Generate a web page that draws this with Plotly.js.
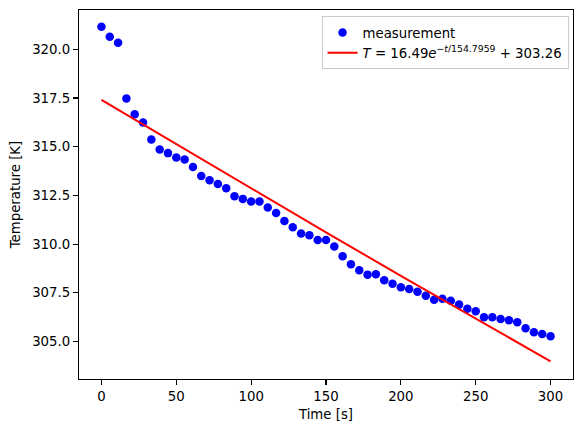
<!DOCTYPE html>
<html>
<head>
<meta charset="utf-8">
<script src="https://cdn.plot.ly/plotly-3.0.1.min.js"></script>
<style>html,body{margin:0;padding:0;background:#fff;}#chart{width:584px;height:432px;}</style>
</head>
<body>
<div id="chart"></div>
<script>
const timeS = [0, 5.56, 11.11, 16.67, 22.22, 27.78, 33.33, 38.89, 44.44, 50,
  55.56, 61.11, 66.67, 72.22, 77.78, 83.33, 88.89, 94.44, 100, 105.56,
  111.11, 116.67, 122.22, 127.78, 133.33, 138.89, 144.44, 150, 155.56, 161.11,
  166.67, 172.22, 177.78, 183.33, 188.89, 194.44, 200, 205.56, 211.11, 216.67,
  222.22, 227.78, 233.33, 238.89, 244.44, 250, 255.56, 261.11, 266.67, 272.22,
  277.78, 283.33, 288.89, 294.44, 300];
const measuredT = [321.16, 320.65, 320.34, 317.47, 316.67, 316.24, 315.37, 314.86, 314.67, 314.45,
  314.34, 313.96, 313.49, 313.28, 313.09, 312.87, 312.45, 312.32, 312.19, 312.19,
  311.88, 311.59, 311.18, 310.86, 310.54, 310.45, 310.21, 310.21, 309.88, 309.37,
  308.96, 308.65, 308.43, 308.45, 308.14, 307.96, 307.78, 307.69, 307.55, 307.35,
  307.14, 307.19, 307.09, 306.89, 306.68, 306.55, 306.24, 306.24, 306.15, 306.09,
  305.99, 305.68, 305.47, 305.38, 305.26];
const fitTime = [0, 50, 100, 150, 200, 250, 300];
const fitT = [317.40, 315.13, 312.85, 310.60, 308.37, 306.17, 303.98];
const seriesNames = ["measurement", "<i>T</i> = 16.49<i>e</i><sup>−<i>t</i>/154.7959</sup> + 303.26"];
const xTicks = [0, 50, 100, 150, 200, 250, 300];
const yTicks = [305.0, 307.5, 310.0, 312.5, 315.0, 317.5, 320.0];
const yTickText = ["305.0", "307.5", "310.0", "312.5", "315.0", "317.5", "320.0"];

const font = {family: "DejaVu Sans", size: 13.3, color: "#000"};

const traces = [
  {x: timeS, y: measuredT, type: "scatter", mode: "markers", name: seriesNames[0],
   marker: {color: "#0000ff", size: 8.5, line: {width: 0}}},
  {x: fitTime, y: fitT, type: "scatter", mode: "lines", name: seriesNames[1],
   line: {color: "#ff0000", width: 2}}
];

const layout = {
  width: 584, height: 432,
  margin: {l: 79.3, r: 10.7, t: 9.7, b: 52.7, pad: 0},
  paper_bgcolor: "#fff", plot_bgcolor: "#fff",
  font: font,
  showlegend: true,
  xaxis: {
    range: [-15, 315], tickvals: xTicks, ticks: "outside", ticklen: 5, tickwidth: 1.1, tickcolor: "#000",
    showline: true, linecolor: "#000", linewidth: 1.1, mirror: true, showgrid: false, zeroline: false,
    tickfont: font, title: {text: "Time [s]", font: font, standoff: 6}
  },
  yaxis: {
    range: [303.07, 322.02], tickvals: yTicks, ticktext: yTickText, ticks: "outside", ticklen: 5, tickwidth: 1.1, tickcolor: "#000",
    showline: true, linecolor: "#000", linewidth: 1.1, mirror: true, showgrid: false, zeroline: false,
    tickfont: font, title: {text: "Temperature [K]", font: font, standoff: 8}
  },
  legend: {
    x: 0.991, y: 0.983, xanchor: "right", yanchor: "top",
    bgcolor: "rgba(255,255,255,0.8)", bordercolor: "#cccccc", borderwidth: 1,
    font: font, itemwidth: 30, tracegroupgap: 0
  }
};

Plotly.newPlot("chart", traces, layout, {displayModeBar: false, staticPlot: true});
</script>
</body>
</html>
